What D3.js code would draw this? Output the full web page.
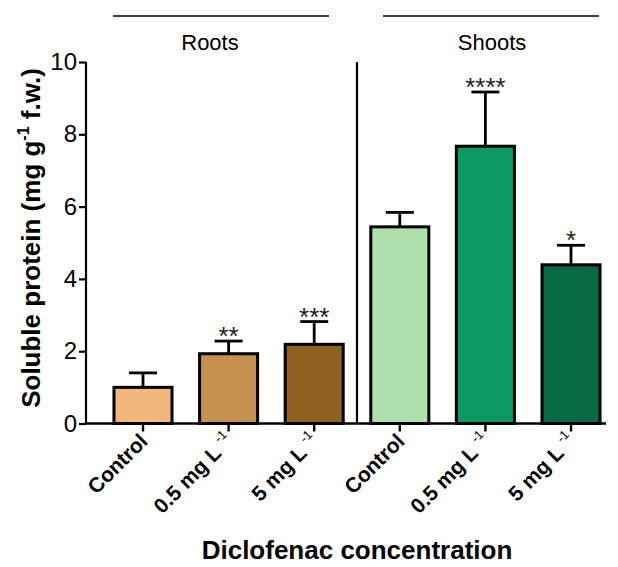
<!DOCTYPE html>
<html>
<head>
<meta charset="utf-8">
<script src="https://cdn.jsdelivr.net/npm/d3@7"></script>
<style>
  body { margin: 0; background: #fff; }
  svg { display: block; font-family: "Liberation Sans", Arial, sans-serif; }
</style>
</head>
<body>
<svg id="chart" width="618" height="567"></svg>
<script>
// Soluble protein content by tissue and diclofenac treatment
const tissues = ["Roots", "Shoots"];
const treatments = ["Control", "0.5 mg L", "5 mg L"];
const groupIds = ["r0", "r1", "r2", "s0", "s1", "s2"];
const groupTissue = ["Roots", "Roots", "Roots", "Shoots", "Shoots", "Shoots"];
const groupTreatment = ["Control", "0.5 mg L", "5 mg L", "Control", "0.5 mg L", "5 mg L"];
const means = [1.0, 1.93, 2.19, 5.44, 7.67, 4.39];
const errors = [0.40, 0.35, 0.63, 0.40, 1.50, 0.54];
const stars = ["", "**", "***", "", "****", "*"];
const fills = ["#F3B77E", "#C4914F", "#8F6020", "#AEDFAD", "#0C9963", "#076A44"];
const yTicks = [0, 2, 4, 6, 8, 10];

const svg = d3.select("#chart");
const plot = { left: 86, right: 606, top: 62, bottom: 423.5 };

const x = d3.scaleBand()
  .domain(groupIds)
  .range([100.2, 613.8])
  .paddingInner(0.322)
  .paddingOuter(0.161);

const y = d3.scaleLinear().domain([0, 10]).range([plot.bottom, plot.top]);

// bars
svg.append("g").selectAll("rect")
  .data(groupIds)
  .join("rect")
  .attr("x", d => x(d))
  .attr("y", (d, i) => y(means[i]))
  .attr("width", x.bandwidth())
  .attr("height", (d, i) => y(0) - y(means[i]))
  .attr("fill", (d, i) => fills[i])
  .attr("stroke", "#000")
  .attr("stroke-width", 3);

// upper error bars
const eb = svg.append("g").attr("stroke", "#000").attr("stroke-width", 2.8);
groupIds.forEach((d, i) => {
  const cx = x(d) + x.bandwidth() / 2;
  eb.append("line")
    .attr("x1", cx).attr("x2", cx)
    .attr("y1", y(means[i])).attr("y2", y(means[i] + errors[i]));
  eb.append("line")
    .attr("x1", cx - 14).attr("x2", cx + 14)
    .attr("y1", y(means[i] + errors[i])).attr("y2", y(means[i] + errors[i]));
});

// significance marks
svg.append("g").selectAll("text")
  .data(groupIds)
  .join("text")
  .attr("x", d => x(d) + x.bandwidth() / 2)
  .attr("y", (d, i) => y(means[i] + errors[i]) + 4)
  .attr("text-anchor", "middle")
  .attr("font-size", 26)
  .attr("fill", "#222")
  .text((d, i) => stars[i]);

// y axis
const yAxis = svg.append("g")
  .attr("transform", `translate(${plot.left},0)`)
  .call(d3.axisLeft(y).tickValues(yTicks).tickSize(7).tickPadding(2));
yAxis.select(".domain").attr("stroke-width", 2.2).attr("d", `M0,${plot.top}V${plot.bottom}`);
yAxis.selectAll(".tick line").attr("stroke-width", 2.2);
yAxis.selectAll(".tick text").attr("font-size", 24).attr("fill", "#000")
  .attr("font-family", "Liberation Sans, Arial, sans-serif");

// x axis
const xAxis = svg.append("g")
  .attr("transform", `translate(0,${plot.bottom})`)
  .call(d3.axisBottom(x).tickSize(8).tickFormat(""));
xAxis.select(".domain").attr("stroke-width", 2.4).attr("d", `M${plot.left},0H${plot.right}`);
xAxis.selectAll(".tick line").attr("stroke-width", 2.4);

// rotated category labels
const lab = svg.append("g");
groupIds.forEach((d, i) => {
  const cx = x(d) + x.bandwidth() / 2 + 6;
  const t = lab.append("text")
    .attr("transform", `translate(${cx},${plot.bottom + 19}) rotate(-45)`)
    .attr("text-anchor", "end")
    .attr("font-size", 21)
    .attr("font-weight", "bold")
    .attr("fill", "#000");
  if (groupTreatment[i] === "Control") {
    t.text(groupTreatment[i]);
  } else {
    t.append("tspan").text(groupTreatment[i] + " ");
    t.append("tspan").attr("font-size", 13).attr("font-weight", "normal")
      .attr("dy", -10).text("-1");
  }
});

// separator between tissues
const sepX = (x("r2") + x.bandwidth() + x("s0")) / 2;
svg.append("line")
  .attr("x1", sepX).attr("x2", sepX)
  .attr("y1", plot.top).attr("y2", plot.bottom)
  .attr("stroke", "#000").attr("stroke-width", 2.2);

// tissue headers
const headers = [
  { name: tissues[0], x1: 113, x2: 329, tx: 210 },
  { name: tissues[1], x1: 383, x2: 599, tx: 492 }
];
headers.forEach(h => {
  svg.append("line")
    .attr("x1", h.x1).attr("x2", h.x2)
    .attr("y1", 16).attr("y2", 16)
    .attr("stroke", "#000").attr("stroke-width", 1.5);
  svg.append("text")
    .attr("x", h.tx).attr("y", 50)
    .attr("text-anchor", "middle")
    .attr("font-size", 22)
    .attr("fill", "#000")
    .text(h.name);
});

// axis titles
const yt = svg.append("text")
  .attr("transform", `translate(40,238) rotate(-90)`)
  .attr("text-anchor", "middle")
  .attr("font-size", 26)
  .attr("font-weight", "bold")
  .attr("fill", "#000");
yt.append("tspan").text("Soluble protein (mg g");
yt.append("tspan").attr("font-size", 16).attr("dy", -11).text("-1");
yt.append("tspan").attr("dy", 11).text(" f.w.)");

svg.append("text")
  .attr("x", 357).attr("y", 559)
  .attr("text-anchor", "middle")
  .attr("font-size", 26)
  .attr("font-weight", "bold")
  .attr("fill", "#000")
  .text("Diclofenac concentration");
</script>
</body>
</html>
